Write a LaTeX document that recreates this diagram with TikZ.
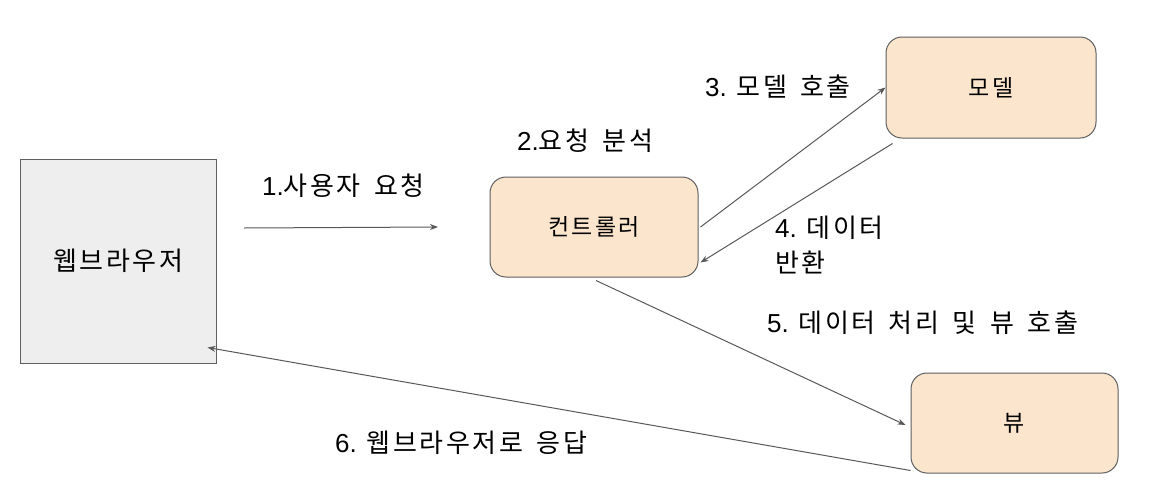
\documentclass[tikz,border=0pt]{standalone}
\usepackage{fontspec}
\setmainfont{Liberation Sans}
\newfontfamily\kr[LetterSpace=10.0,WordSpace=1.6]{Noto Sans CJK KR}
\usetikzlibrary{arrows.meta,calc}
\definecolor{boxfill}{HTML}{FCE5CD}
\definecolor{boxline}{HTML}{5F5F5F}
\definecolor{webfill}{HTML}{EEEEEE}
\definecolor{arrowc}{HTML}{595959}
\begin{document}
\begin{tikzpicture}[x=1pt,y=-1pt,
  mvcbox/.style={draw=boxline, fill=boxfill, line width=1pt, rounded corners=16pt, inner sep=0pt, font=\fontsize{23}{26}\selectfont\kr},
  webbox/.style={draw=boxline, fill=webfill, line width=1pt, inner sep=0pt, font=\fontsize{26}{28}\selectfont\kr},
  lbl/.style={inner sep=0pt, font=\fontsize{26}{35}\selectfont},
  conn/.style={draw=arrowc, line width=1pt, -{Stealth[length=8pt,width=6pt]}}]
\useasboundingbox (0,0) rectangle (1168,496);
\fill[white] (0,0) rectangle (1168,496);
\node[webbox, minimum width=196pt, minimum height=204pt] (wb) at (118,261) {웹브라우저};
\node[mvcbox, minimum width=208pt, minimum height=100pt] (c) at (594,227) {컨트롤러};
\node[mvcbox, minimum width=210pt, minimum height=101pt] (m) at (991,87.5) {모델};
\node[mvcbox, minimum width=207pt, minimum height=100pt] (v) at (1014.5,423) {뷰};

\coordinate (a1s) at (244,228);
\coordinate (a1e) at (438,227);
\draw[conn] (a1s) -- (a1e);
\draw[conn] ($(c.east)+(2,0)$) -- (m.west);
\draw[conn] ($(m.south west)+(7,5)$) -- ($(c.south east)+(2,-15)$);
\draw[conn] ($(c.south)+(2,3)$) -- ($(v.west)+(-5,2)$);
\draw[conn] ($(v.south west)+(0,-3)$) -- ($(wb.south east)+(-9,-16)$);

\node[lbl, anchor=base west] (l1) at (262,195) {1.{\kr 사용자 요청}};
\node[lbl, anchor=base west] (l2) at (517,150) {2.{\kr 요청 분석}};
\node[lbl, anchor=base west] (l3) at (705,96) {3. {\kr 모델 호출}};
\node[lbl, anchor=west, align=left] (l4) at (775,245) {4. {\kr 데이터}\\{\kr 반환}};
\node[lbl, anchor=base west] (l5) at (767,332) {5. {\kr 데이터 처리 및 뷰 호출}};
\node[lbl, anchor=base west] (l6) at (335,452) {6. {\kr 웹브라우저로 응답}};
\end{tikzpicture}
\end{document}
